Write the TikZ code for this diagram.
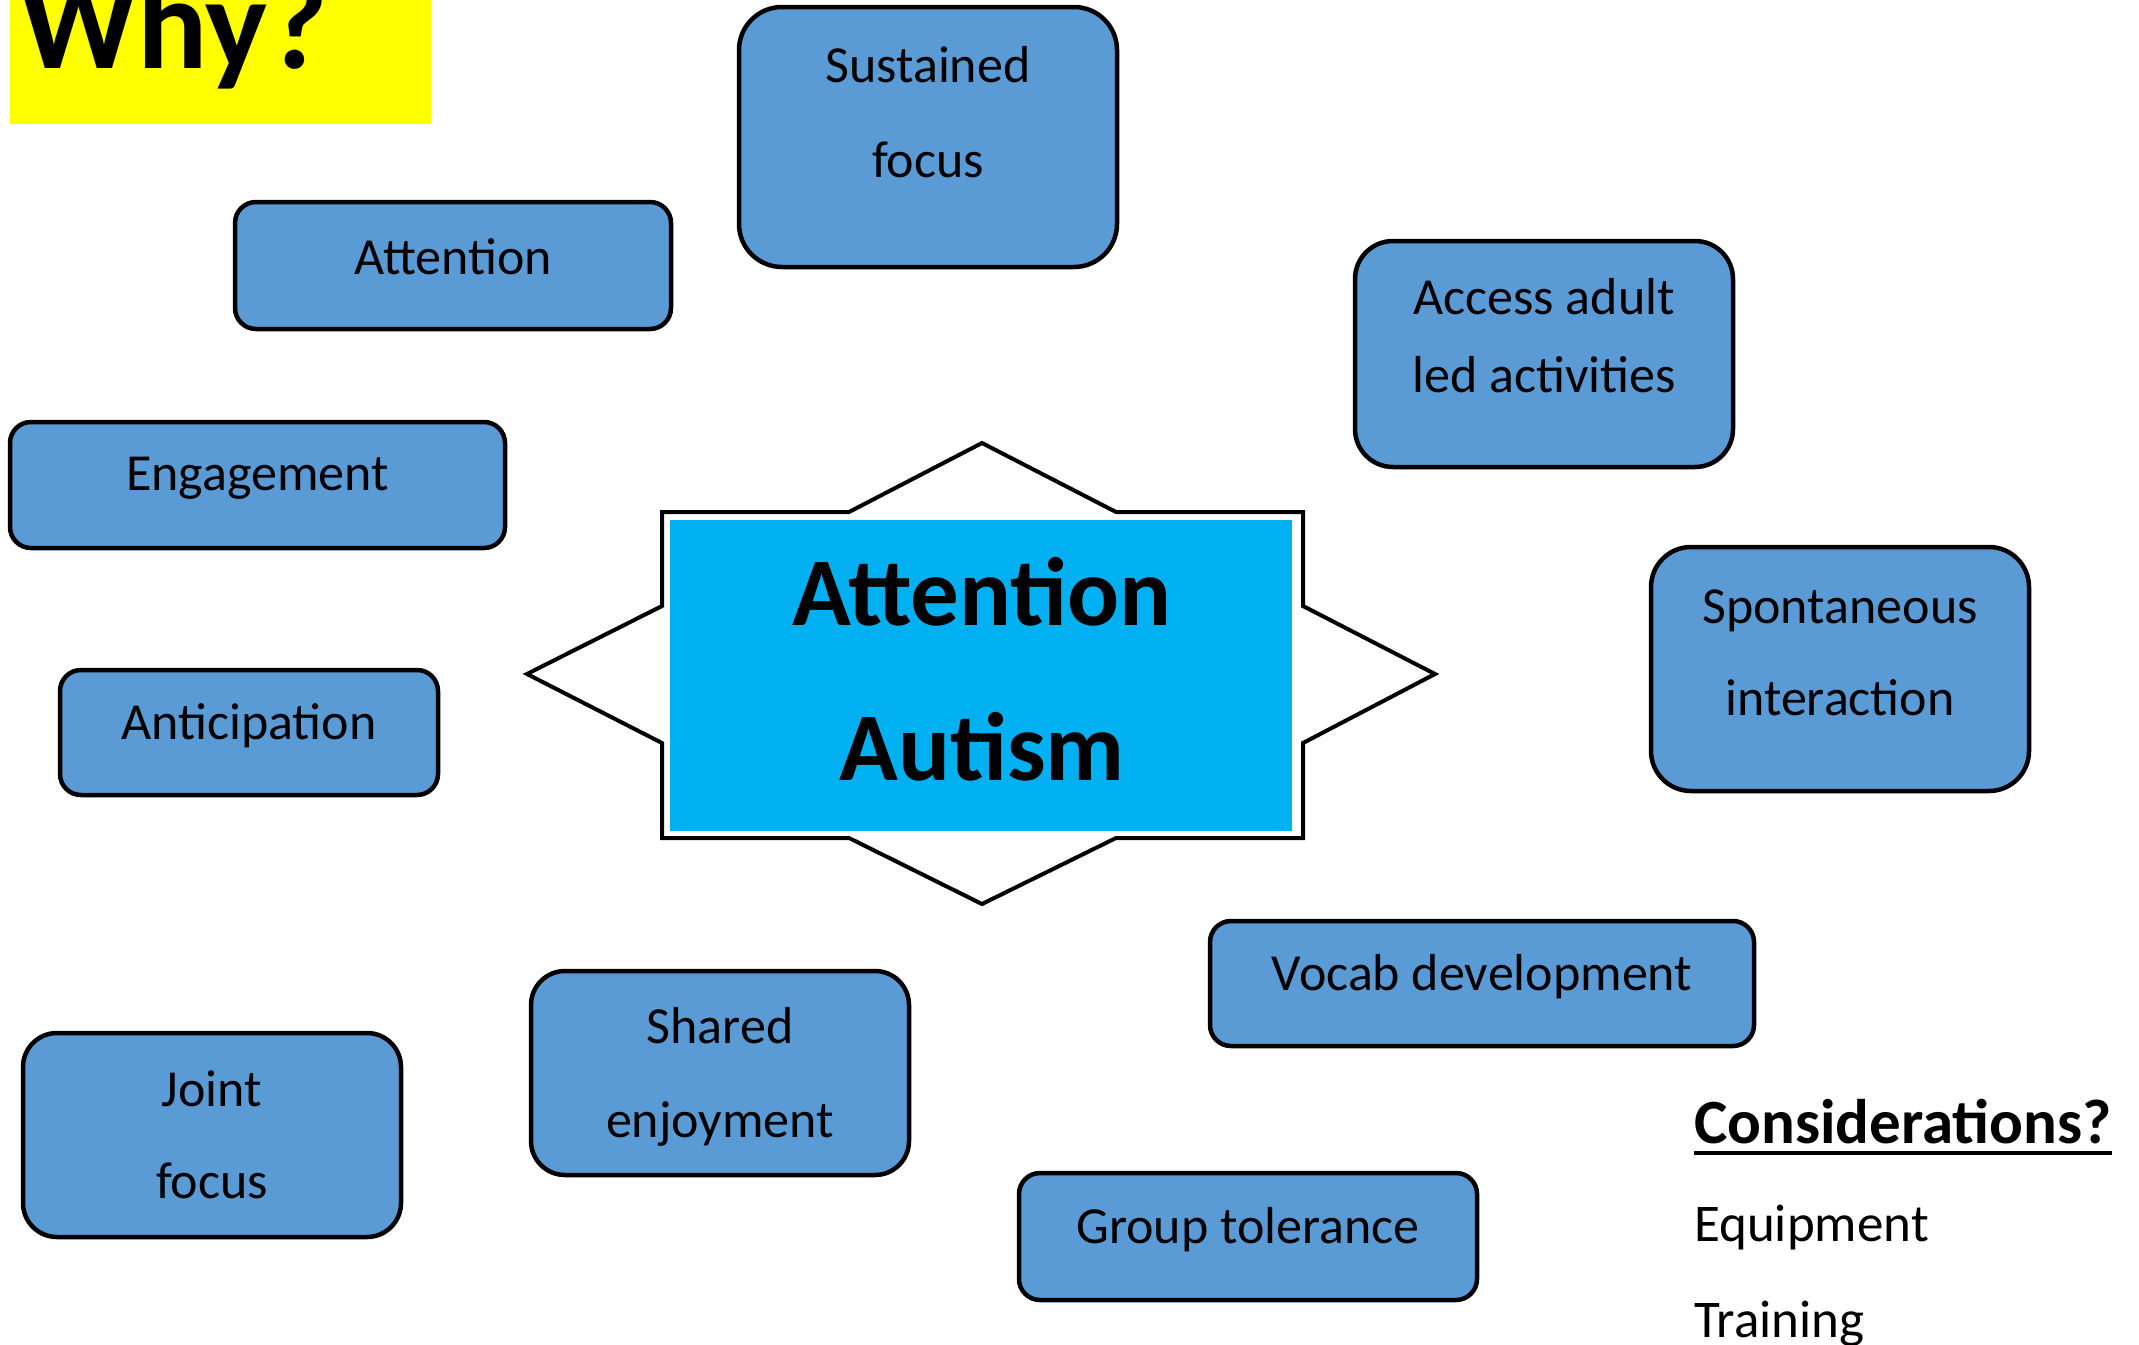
\documentclass[tikz,border=0pt]{standalone}
\usepackage{fontspec}
\setmainfont{Carlito}
\definecolor{boxblue}{HTML}{5B9BD5}
\definecolor{centerblue}{HTML}{00B0F0}
\definecolor{whyyellow}{HTML}{FFFF00}
\begin{document}
\begin{tikzpicture}[x=1pt,y=-1pt,
  bx/.style={draw=black, line width=4.5pt, fill=boxblue, rectangle, inner sep=0pt},
  txt/.style={inner sep=0pt, anchor=base, font=\fontsize{52}{60}\selectfont},
  bigtxt/.style={inner sep=0pt, anchor=base, font=\fontsize{97}{110}\selectfont\bfseries},
  plain/.style={inner sep=0pt, anchor=base west, font=\fontsize{53}{60}\selectfont}]
\useasboundingbox (0,0) rectangle (2139,1344);
% Why? title
\fill[whyyellow] (10,0) rectangle (431,124);
\node[inner sep=0pt, anchor=base west, font=\fontsize{131}{140}\selectfont\bfseries] (why) at (19,68) {Why?};
% boxes
\node[bx, minimum width=378, minimum height=260, rounded corners=43] (sus) at (928,137) {};
\node[txt] (susA) at (928,82) {Sustained};
\node[txt] (susB) at (928,177) {focus};
\node[bx, minimum width=436, minimum height=127, rounded corners=21] (att) at (453,265.5) {};
\node[txt] (attT) at (453,274) {Attention};
\node[bx, minimum width=495, minimum height=126, rounded corners=21] (eng) at (257.5,485) {};
\node[txt] (engT) at (257.5,490) {Engagement};
\node[bx, minimum width=378, minimum height=125, rounded corners=21] (ant) at (249,732.5) {};
\node[txt] (antT) at (249,739) {Anticipation};
\node[bx, minimum width=378, minimum height=204, rounded corners=34] (joint) at (212,1135) {};
\node[txt] (jointA) at (212,1106) {Joint};
\node[txt] (jointB) at (212,1198) {focus};
\node[bx, minimum width=378, minimum height=204, rounded corners=34] (shared) at (720,1073) {};
\node[txt] (sharedA) at (720,1043) {Shared};
\node[txt] (sharedB) at (720,1137) {enjoyment};
\node[bx, minimum width=378, minimum height=226, rounded corners=38] (access) at (1544,354) {};
\node[txt] (accessA) at (1544,314) {Access adult};
\node[txt] (accessB) at (1544,392) {led activities};
\node[bx, minimum width=378, minimum height=244, rounded corners=40] (spont) at (1840,669) {};
\node[txt] (spontA) at (1840,623) {Spontaneous};
\node[txt] (spontB) at (1840,715) {interaction};
\node[bx, minimum width=544, minimum height=125, rounded corners=21] (vocab) at (1482,983.5) {};
\node[txt] (vocabT) at (1482,990) {Vocab development};
\node[bx, minimum width=458, minimum height=127, rounded corners=21] (group) at (1248,1236.5) {};
\node[txt] (groupT) at (1248,1243) {Group tolerance};
% central star
\draw[line width=4pt, fill=white, line join=miter]
  (982,443) -- (1116,512) -- (1303,512) -- (1303,606) -- (1435,674) -- (1303,743)
  -- (1303,838) -- (1116,838) -- (982,904) -- (849,838) -- (662,838) -- (662,743)
  -- (527,674) -- (662,606) -- (662,512) -- (849,512) -- cycle;
\fill[centerblue] (670,520) rectangle (1292,831);
\node[bigtxt] (cenA) at (982,625) {Attention};
\node[bigtxt] (cenB) at (982,780) {Autism};
% considerations
\node[inner sep=0pt, anchor=base west, font=\fontsize{63}{70}\selectfont\bfseries] (cons) at (1694,1143) {Considerations?};
\draw[line width=4pt] (cons.base west) ++(0,10) coordinate (ul1) -- (cons.base east |- ul1);
\node[plain] (equip) at (1694,1241) {Equipment};
\node[plain] (train) at (1694,1337) {Training};
\end{tikzpicture}
\end{document}
